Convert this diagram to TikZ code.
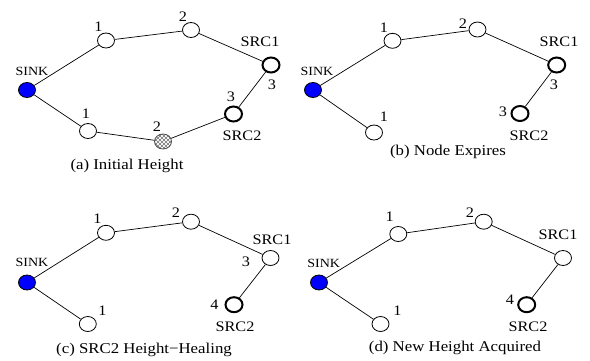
\documentclass[tikz,border=0pt]{standalone}
\usepackage{fontspec}
\setmainfont[FakeStretch=1.12]{Liberation Serif}
\usetikzlibrary{shapes.geometric,patterns}
\pgfdeclarepatternformonly{diagcross}{\pgfqpoint{-1pt}{-1pt}}{\pgfqpoint{5pt}{5pt}}{\pgfqpoint{4pt}{4pt}}{%
  \pgfsetlinewidth{0.5pt}%
  \pgfpathmoveto{\pgfqpoint{0pt}{0pt}}\pgfpathlineto{\pgfqpoint{4.1pt}{4.1pt}}%
  \pgfpathmoveto{\pgfqpoint{0pt}{4pt}}\pgfpathlineto{\pgfqpoint{4.1pt}{-0.1pt}}%
  \pgfusepath{stroke}}
\tikzset{
  nd/.style={ellipse, draw, line width=0.8pt, minimum width=17pt, minimum height=15pt, inner sep=0pt, fill=white},
  src/.style={nd, line width=2pt},
  snk/.style={nd, fill=blue},
  hatch/.style={nd, draw=black!70, pattern=diagcross, pattern color=black!55},
  ed/.style={line width=0.7pt},
  lbl/.style={inner sep=0pt, font=\fontsize{14.5}{14.5}\selectfont},
  slbl/.style={inner sep=0pt, font=\fontsize{12.5}{12.5}\selectfont},
  captxt/.style={inner sep=0pt, font=\fontsize{15}{15}\selectfont},
}
\begin{document}
\begin{tikzpicture}[x=1pt, y=-1pt]
\useasboundingbox (0,0) rectangle (590,360);
% ---------- (a)
\node[snk] (aS) at (27,90) {};
\node[nd] (a1) at (106,40.5) {};
\node[nd] (a2) at (191,30) {};
\node[src] (aR1) at (271,65) {};
\node[src] (aR2) at (233.5,114) {};
\node[hatch] (ab2) at (163,141.5) {};
\node[nd] (ab1) at (88,131) {};
\draw[ed] (aS) -- (a1) -- (a2) -- (aR1) -- (aR2) -- (ab2) -- (ab1) -- (aS);
\node[slbl] (aSl) at (32,71) {SINK};
\node[lbl] (a1l) at (98.5,27) {1};
\node[lbl] (a2l) at (183,17) {2};
\node[lbl] (aR1l) at (260,42) {SRC1};
\node[lbl] (aR1h) at (272,85) {3};
\node[lbl] (aR2h) at (231,97) {3};
\node[lbl] (aR2l) at (242,135.5) {SRC2};
\node[lbl] (ab1l) at (86,114) {1};
\node[lbl] (ab2l) at (157,127) {2};
\node[captxt] (acap) at (127,166) {(a) Initial Height};
% ---------- (b)
\node[snk] (bS) at (313,90) {};
\node[nd] (b1) at (392.5,40.8) {};
\node[nd] (b2) at (477.5,29.5) {};
\node[src] (bR1) at (556.7,65) {};
\node[src] (bR2) at (520,113.5) {};
\node[nd] (bb1) at (374,132.5) {};
\draw[ed] (bS) -- (b1) -- (b2) -- (bR1) -- (bR2);
\draw[ed] (bS) -- (bb1);
\node[slbl] (bSl) at (317,71) {SINK};
\node[lbl] (b1l) at (384,27.5) {1};
\node[lbl] (b2l) at (463,24) {2};
\node[lbl] (bR1l) at (559,42) {SRC1};
\node[lbl] (bR1h) at (554,85) {3};
\node[lbl] (bR2h) at (503,112) {3};
\node[lbl] (bR2l) at (529,135.5) {SRC2};
\node[lbl] (bb1l) at (384,117) {1};
\node[captxt] (bcap) at (448,152) {(b) Node Expires};
% ---------- (c)
\node[snk] (cS) at (27,282.5) {};
\node[nd] (c1) at (106,232.8) {};
\node[nd] (c2) at (191,221.7) {};
\node[nd] (cR1) at (270.5,258) {};
\node[src] (cR2) at (234,304.7) {};
\node[nd] (cb1) at (87.8,324) {};
\draw[ed] (cS) -- (c1) -- (c2) -- (cR1) -- (cR2);
\draw[ed] (cS) -- (cb1);
\node[slbl] (cSl) at (32,262.5) {SINK};
\node[lbl] (c1l) at (97.5,218.5) {1};
\node[lbl] (c2l) at (176,212.5) {2};
\node[lbl] (cR1l) at (272,240) {SRC1};
\node[lbl] (cR1h) at (246,261.7) {3};
\node[lbl] (cR2h) at (214.5,305) {4};
\node[lbl] (cR2l) at (235,326.7) {SRC2};
\node[lbl] (cb1l) at (102.5,310.5) {1};
\node[captxt] (ccap) at (144,350) {(c) SRC2 Height\textminus Healing};
% ---------- (d)
\node[snk] (dS) at (319,282.5) {};
\node[nd] (d1) at (398.3,234) {};
\node[nd] (d2) at (483.7,221.7) {};
\node[nd] (dR1) at (563,258) {};
\node[src] (dR2) at (526.7,304.7) {};
\node[nd] (db1) at (380.5,324) {};
\draw[ed] (dS) -- (d1) -- (d2) -- (dR1) -- (dR2);
\draw[ed] (dS) -- (db1);
\node[slbl] (dSl) at (323.7,263) {SINK};
\node[lbl] (d1l) at (389.7,217) {1};
\node[lbl] (d2l) at (470,212.5) {2};
\node[lbl] (dR1l) at (558,235) {SRC1};
\node[lbl] (dR2h) at (510,299.5) {4};
\node[lbl] (dR2l) at (528,326.7) {SRC2};
\node[lbl] (db1l) at (397.5,310.5) {1};
\node[captxt] (dcap) at (455,348) {(d) New Height Acquired};
\end{tikzpicture}
\end{document}
